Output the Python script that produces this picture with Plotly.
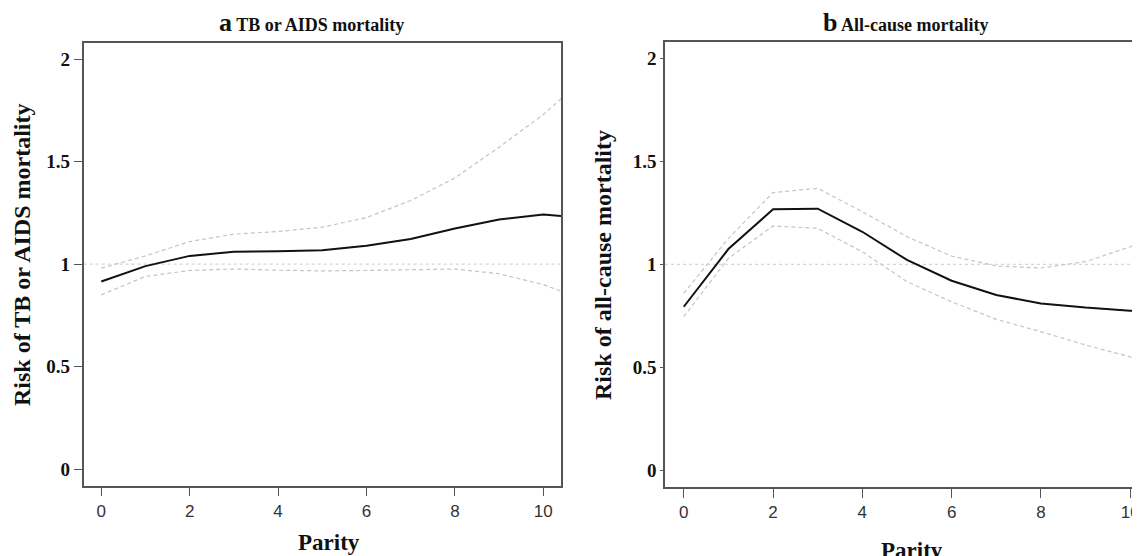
import plotly.graph_objects as go
from plotly.subplots import make_subplots

# ---- data ----
parity = [0, 1, 2, 3, 4, 5, 6, 7, 8, 9, 10, 11]

tb_risk  = [0.915, 0.99, 1.04, 1.06, 1.063, 1.068, 1.089, 1.122, 1.174, 1.218, 1.242, 1.225]
tb_upper = [0.98, 1.04, 1.11, 1.146, 1.159, 1.18, 1.227, 1.31, 1.42, 1.57, 1.73, 1.92]
tb_lower = [0.85, 0.94, 0.969, 0.976, 0.97, 0.967, 0.969, 0.973, 0.976, 0.953, 0.90, 0.82]

all_risk  = [0.794, 1.074, 1.267, 1.27, 1.158, 1.021, 0.92, 0.851, 0.81, 0.79, 0.775, 0.762]
all_upper = [0.859, 1.126, 1.348, 1.369, 1.255, 1.134, 1.04, 0.992, 0.982, 1.013, 1.085, 1.18]
all_lower = [0.746, 1.029, 1.186, 1.175, 1.061, 0.916, 0.818, 0.733, 0.673, 0.608, 0.551, 0.50]

y_tickvals = [0, 0.5, 1, 1.5, 2]
y_ticktext = ["0", "0.5", "1", "1.5", "2"]
x_tickvals = [0, 2, 4, 6, 8, 10]
x_ticktext = ["0", "2", "4", "6", "8", "10"]

# page has an 8px body margin: build the figure 8px smaller and shift coords
OFF = 8
SW, SH = 1140, 556
W, H = SW - OFF, SH - OFF
SERIF = "Liberation Serif, Times New Roman, serif"
SANS = "Liberation Sans, Arial, sans-serif"

def px(x):   # screen x -> paper x
    return (x - OFF) / W

def py(y):   # screen y -> paper y
    return 1 - (y - OFF) / H

fig = make_subplots(rows=1, cols=2)

ci_line = dict(color="#c4c4c4", width=1.2, dash="4px,3px")
main_line = dict(color="#111111", width=2)

for col, (r, u, l) in enumerate([(tb_risk, tb_upper, tb_lower),
                                  (all_risk, all_upper, all_lower)], start=1):
    fig.add_trace(go.Scatter(x=parity, y=u, mode="lines", line=ci_line,
                             showlegend=False, hoverinfo="skip"), row=1, col=col)
    fig.add_trace(go.Scatter(x=parity, y=l, mode="lines", line=ci_line,
                             showlegend=False, hoverinfo="skip"), row=1, col=col)
    fig.add_trace(go.Scatter(x=parity, y=r, mode="lines", line=main_line,
                             showlegend=False), row=1, col=col)
    fig.add_hline(y=1, line=dict(color="#cccccc", width=1, dash="3px,3px"),
                  row=1, col=col, layer="below")

axis_common = dict(showgrid=False, zeroline=False, showline=True,
                   linecolor="#555555", linewidth=1.5, ticks="outside",
                   tickcolor="#555555", tickwidth=1.2, automargin=False)
xfont = dict(family=SANS, size=17, color="#333333")
yfont = dict(family=SERIF, size=19, color="#111111", weight="bold")

# panel a
fig.update_xaxes(**axis_common, domain=[px(83.6), px(561)], range=[-0.4, 10.4],
                 mirror=True, tickvals=x_tickvals, ticktext=x_ticktext,
                 ticklen=9, tickfont=xfont, row=1, col=1)
fig.update_yaxes(**axis_common, domain=[py(485.5), py(42.7)],
                 range=[-0.08, 2.08], mirror=True, tickvals=y_tickvals,
                 ticktext=y_ticktext, ticklen=8,
                 tickfont=yfont, row=1, col=1)
# panel b (clipped at the right edge)
fig.update_xaxes(**axis_common, domain=[px(665), 1.0], range=[-0.42, 10.22],
                 mirror=True, tickvals=x_tickvals, ticktext=x_ticktext,
                 ticklen=9, tickfont=xfont, row=1, col=2)
fig.update_yaxes(**axis_common, domain=[py(486.8), py(41.8)],
                 range=[-0.08, 2.08], mirror=False, tickvals=y_tickvals,
                 ticktext=y_ticktext, ticklen=3,
                 tickfont=yfont, row=1, col=2)

def ann(text, x, y, size, angle=0):
    fig.add_annotation(text=text, x=px(x), y=py(y), xref="paper", yref="paper",
                       showarrow=False, textangle=angle, xanchor="center",
                       yanchor="middle",
                       font=dict(family=SERIF, size=size, color="#111111"))

ann("<b><span style='font-size:26px'>a</span> TB or AIDS mortality</b>", 311, 22, 18)
ann("<b><span style='font-size:26px'>b</span> All-cause mortality</b>", 905, 22, 18)
ann("<b>Parity</b>", 329, 542, 23)
ann("<b>Parity</b>", 912, 550, 23)
ann("<b>Risk of TB or AIDS mortality</b>", 22, 255, 24, -90)
ann("<b>Risk of all-cause mortality</b>", 603, 265, 24, -90)

fig.update_layout(width=W, height=H, margin=dict(l=0, r=0, t=0, b=0),
                  paper_bgcolor="white", plot_bgcolor="white", showlegend=False)

fig.write_html("out.html")
